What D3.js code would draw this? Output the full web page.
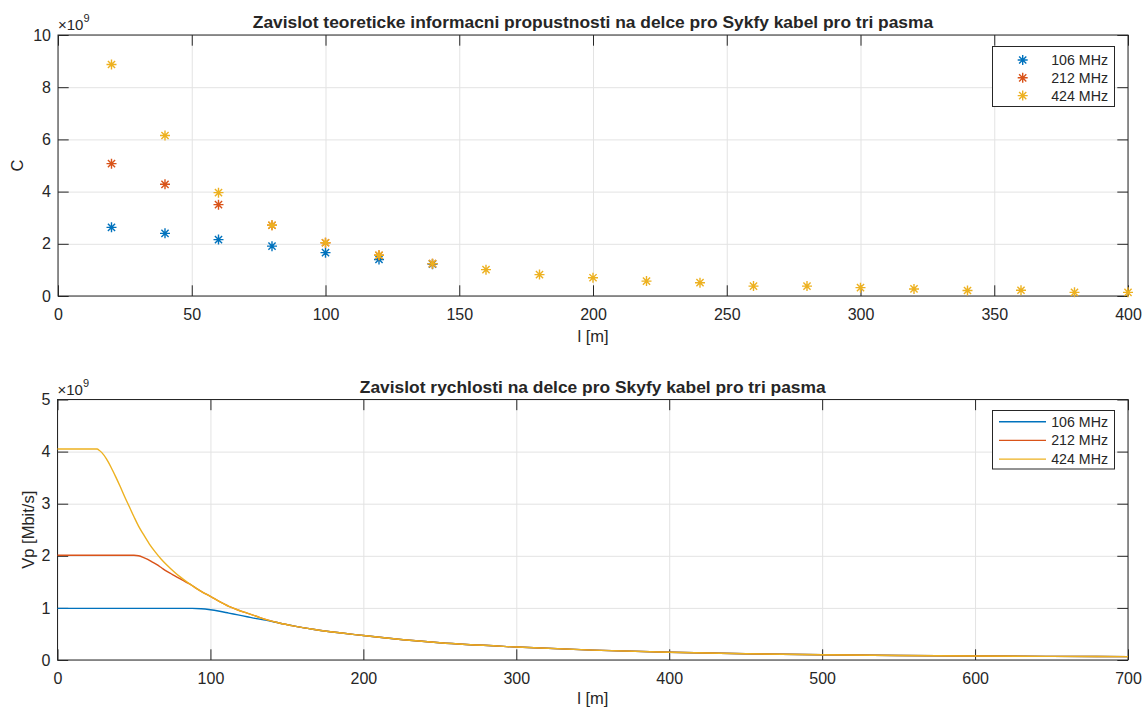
<!DOCTYPE html>
<html>
<head>
<meta charset="utf-8">
<script src="https://cdn.jsdelivr.net/npm/d3@7"></script>
<style>
    body { margin: 0; background: #fff; }
    svg text { font-family: "Liberation Sans", Arial, Helvetica, sans-serif; fill: #262626; }
</style>
</head>
<body>
<div id="chart"></div>
<script>
// ---- top plot: C vs l (values x 1e9) ----
const lenC106 = [20, 40, 60, 80, 100, 120, 140];
const c106 = [2.63, 2.40, 2.16, 1.91, 1.66, 1.40, 1.22];
const lenC212 = [20, 40, 60, 80, 100, 120, 140];
const c212 = [5.07, 4.28, 3.50, 2.71, 2.04, 1.56, 1.24];
const lenC424 = [20, 40, 60, 80, 100, 120, 140, 160, 180, 200, 220, 240, 260, 280, 300, 320, 340, 360, 380, 400];
const c424 = [8.87, 6.15, 3.96, 2.71, 2.04, 1.56, 1.24, 1.01, 0.82, 0.70, 0.57, 0.51, 0.38, 0.38, 0.32, 0.27, 0.21, 0.22, 0.14, 0.14];

// ---- bottom plot: Vp vs l (values x 1e9) ----
const lenV106 = [0, 20, 40, 60, 80, 88, 94, 100, 106, 112, 118, 124, 130, 136, 145, 155, 167, 200, 250, 300, 350, 400, 450, 500, 550, 600, 650, 700];
const v106 = [0.99, 0.99, 0.99, 0.99, 0.99, 0.99, 0.985, 0.965, 0.935, 0.90, 0.865, 0.83, 0.795, 0.765, 0.71, 0.65, 0.59, 0.47, 0.33, 0.25, 0.19, 0.15, 0.12, 0.10, 0.087, 0.077, 0.07, 0.064];
const lenV212 = [0, 50, 53, 56, 59, 62, 65, 68, 71, 74, 77, 80, 84, 88, 90, 95, 100, 106, 112, 118, 124, 130, 136, 145, 155, 167, 200, 250, 300, 350, 400, 450, 500, 550, 600, 650, 700];
const v212 = [2.01, 2.01, 2.0, 1.97, 1.93, 1.88, 1.83, 1.77, 1.71, 1.66, 1.61, 1.56, 1.495, 1.43, 1.39, 1.30, 1.22, 1.12, 1.03, 0.96, 0.90, 0.84, 0.78, 0.71, 0.65, 0.59, 0.47, 0.33, 0.25, 0.19, 0.15, 0.12, 0.10, 0.087, 0.077, 0.07, 0.064];
const lenV424 = [0, 26, 27, 29, 32, 35, 38, 41, 44, 47, 50, 53, 56, 60, 64, 68, 72, 76, 80, 85, 90, 95, 100, 106, 112, 118, 124, 130, 136, 145, 155, 167, 200, 250, 300, 350, 400, 450, 500, 550, 600, 650, 700];
const v424 = [4.05, 4.05, 4.03, 3.98, 3.86, 3.70, 3.52, 3.33, 3.13, 2.94, 2.75, 2.57, 2.42, 2.23, 2.07, 1.93, 1.81, 1.70, 1.60, 1.49, 1.39, 1.30, 1.22, 1.12, 1.03, 0.96, 0.90, 0.84, 0.78, 0.71, 0.65, 0.59, 0.47, 0.33, 0.25, 0.19, 0.15, 0.12, 0.10, 0.087, 0.077, 0.07, 0.064];

const seriesNames = ['106 MHz', '212 MHz', '424 MHz'];
const colors = ['#0072BD', '#D95319', '#EDB120'];

const xTicksC = [0, 50, 100, 150, 200, 250, 300, 350, 400];
const yTicksC = [0, 2, 4, 6, 8, 10];
const xTicksV = [0, 100, 200, 300, 400, 500, 600, 700];
const yTicksV = [0, 1, 2, 3, 4, 5];

const W = 1145, H = 709;
const axisColor = '#262626';
const gridColor = '#e3e3e3';
const tickLen = 10.7;
const tickFont = '16px';
const labelFont = '16.5px';

const svg = d3.select('#chart').append('svg')
    .attr('width', W)
    .attr('height', H);

const zip = (xs, ys) => xs.map((x, i) => ({ x: x, y: ys[i] }));

// matlab like '*' marker
const star = {
    draw(context, size) {
        const r = Math.sqrt(size) / 2;
        const d = r * 0.72;
        context.moveTo(-r, 0); context.lineTo(r, 0);
        context.moveTo(0, -r); context.lineTo(0, r);
        context.moveTo(-d, -d); context.lineTo(d, d);
        context.moveTo(-d, d); context.lineTo(d, -d);
    }
};
const starPath = d3.symbol().type(star).size(100)();

function panel(cfg) {
    const { left, right, top, bottom } = cfg;
    const x = d3.scaleLinear().domain(cfg.xDomain).range([left, right]);
    const y = d3.scaleLinear().domain(cfg.yDomain).range([bottom, top]);
    const g = svg.append('g');

    // grid
    g.append('g')
        .attr('transform', `translate(0,${bottom})`)
        .call(d3.axisBottom(x).tickValues(cfg.xTicks).tickSize(-(bottom - top)).tickFormat(''))
        .call(a => a.select('.domain').remove())
        .call(a => a.selectAll('line').attr('stroke', gridColor));
    g.append('g')
        .attr('transform', `translate(${left},0)`)
        .call(d3.axisLeft(y).tickValues(cfg.yTicks).tickSize(-(right - left)).tickFormat(''))
        .call(a => a.select('.domain').remove())
        .call(a => a.selectAll('line').attr('stroke', gridColor));

    // box axes with inward ticks
    const styleAx = a => {
        a.select('.domain').remove();
        a.selectAll('line').attr('stroke', axisColor);
        a.selectAll('text').attr('fill', axisColor).style('font-size', tickFont);
    };
    g.append('g').attr('transform', `translate(0,${bottom})`)
        .call(d3.axisBottom(x).tickValues(cfg.xTicks).tickSizeInner(-tickLen).tickSizeOuter(0).tickPadding(13).tickFormat(d3.format('d')))
        .call(styleAx);
    g.append('g').attr('transform', `translate(0,${top})`)
        .call(d3.axisTop(x).tickValues(cfg.xTicks).tickSizeInner(-tickLen).tickSizeOuter(0).tickFormat(''))
        .call(styleAx);
    g.append('g').attr('transform', `translate(${left},0)`)
        .call(d3.axisLeft(y).tickValues(cfg.yTicks).tickSizeInner(-tickLen).tickSizeOuter(0).tickPadding(7).tickFormat(d3.format('d')))
        .call(styleAx);
    g.append('g').attr('transform', `translate(${right},0)`)
        .call(d3.axisRight(y).tickValues(cfg.yTicks).tickSizeInner(-tickLen).tickSizeOuter(0).tickFormat(''))
        .call(styleAx);

    g.append('rect')
        .attr('x', left).attr('y', top)
        .attr('width', right - left).attr('height', bottom - top)
        .attr('fill', 'none').attr('stroke', axisColor).attr('stroke-width', 1);

    // exponent
    const ex = g.append('text')
        .attr('x', left).attr('y', top - 5)
        .style('font-size', '15px')
        .attr('fill', '#8a8a8a');
    ex.append('tspan').text('\u00d710');
    ex.append('tspan').attr('dy', -8).style('font-size', '11px').text('9');

    // title + labels
    g.append('text')
        .attr('x', (left + right) / 2).attr('y', top - 7)
        .attr('text-anchor', 'middle')
        .style('font-size', '17.4px').style('font-weight', 'bold')
        .attr('fill', '#000')
        .text(cfg.title);
    g.append('text')
        .attr('x', (left + right) / 2).attr('y', bottom + cfg.xLabelDy)
        .attr('text-anchor', 'middle')
        .style('font-size', labelFont)
        .text('l [m]');
    g.append('text')
        .attr('transform', `translate(${cfg.yLabelX},${(top + bottom) / 2}) rotate(-90)`)
        .attr('text-anchor', 'middle')
        .style('font-size', labelFont)
        .text(cfg.yLabel);

    return { g, x, y };
}

// ---------- top ----------
const p1 = panel({
    left: 58, right: 1128, top: 35, bottom: 296,
    xDomain: [0, 400], yDomain: [0, 10],
    xTicks: xTicksC, yTicks: yTicksC,
    title: 'Zavislot teoreticke informacni propustnosti na delce pro Sykfy kabel pro tri pasma',
    yLabel: 'C', yLabelX: 23.3, xLabelDy: 46
});

const dataC = [zip(lenC106, c106), zip(lenC212, c212), zip(lenC424, c424)];
dataC.forEach((s, i) => {
    p1.g.append('g').selectAll('path')
        .data(s)
        .join('path')
        .attr('d', starPath)
        .attr('transform', d => `translate(${p1.x(d.x)},${p1.y(d.y)})`)
        .attr('fill', 'none')
        .attr('stroke', colors[i])
        .attr('stroke-width', 1.4);
});

// legend top
const lg1 = p1.g.append('g');
lg1.append('rect')
    .attr('x', 992.5).attr('y', 46.5).attr('width', 122).attr('height', 60)
    .attr('fill', '#fff').attr('stroke', axisColor);
seriesNames.forEach((name, i) => {
    const yy = 60 + i * 17.8;
    lg1.append('path').attr('d', starPath)
        .attr('transform', `translate(1022.7,${yy})`)
        .attr('fill', 'none').attr('stroke', colors[i]).attr('stroke-width', 1.4);
    lg1.append('text').attr('x', 1108).attr('y', yy + 5)
        .attr('text-anchor', 'end')
        .style('font-size', '14.2px')
        .attr('fill', '#000')
        .text(name);
});

// ---------- bottom ----------
const p2 = panel({
    left: 57.5, right: 1128, top: 399.5, bottom: 660,
    xDomain: [0, 700], yDomain: [0, 5],
    xTicks: xTicksV, yTicks: yTicksV,
    title: 'Zavislot rychlosti na delce pro Skyfy kabel pro tri pasma',
    yLabel: 'Vp [Mbit/s]', yLabelX: 34.3, xLabelDy: 44
});

const line = d3.line()
    .x(d => p2.x(d.x))
    .y(d => p2.y(d.y))
    .curve(d3.curveMonotoneX);

const dataV = [zip(lenV106, v106), zip(lenV212, v212), zip(lenV424, v424)];
dataV.forEach((s, i) => {
    p2.g.append('path')
        .datum(s)
        .attr('d', line)
        .attr('fill', 'none')
        .attr('stroke', colors[i])
        .attr('stroke-width', 1.4);
});

// legend bottom
const lg2 = p2.g.append('g');
lg2.append('rect')
    .attr('x', 992.5).attr('y', 410.5).attr('width', 122).attr('height', 58.5)
    .attr('fill', '#fff').attr('stroke', axisColor);
seriesNames.forEach((name, i) => {
    const yy = 421.7 + i * 18.7;
    lg2.append('line')
        .attr('x1', 999).attr('x2', 1046)
        .attr('y1', yy).attr('y2', yy)
        .attr('stroke', colors[i]).attr('stroke-width', 1.4);
    lg2.append('text').attr('x', 1108).attr('y', yy + 5)
        .attr('text-anchor', 'end')
        .style('font-size', '14.2px')
        .attr('fill', '#000')
        .text(name);
});
</script>
</body>
</html>
